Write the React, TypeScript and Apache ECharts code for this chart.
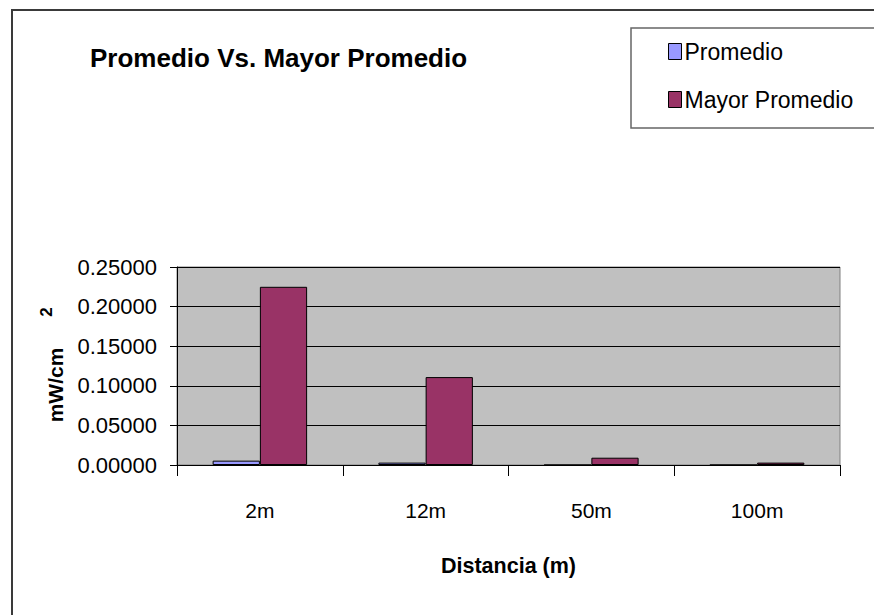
import React, { useEffect, useRef } from "react";
import * as echarts from "echarts";

const categories = ["2m", "12m", "50m", "100m"];
const promedio = [0.0055, 0.003, 0, 0];
const mayorPromedio = [0.225, 0.111, 0.0092, 0.003];
const yTicks = { min: 0, max: 0.25, interval: 0.05 };

const FONT = "'Liberation Sans', Arial, sans-serif";

export default function App() {
  const ref = useRef<HTMLDivElement>(null);
  useEffect(() => {
    if (!ref.current) return;
    const chart = echarts.init(ref.current, null, { renderer: "svg" });
    chart.setOption({
      animation: false,
      backgroundColor: "#ffffff",
      textStyle: { fontFamily: FONT },
      title: {
        text: "Promedio Vs. Mayor Promedio",
        left: 90,
        top: 45,
        padding: 0,
        textStyle: { fontFamily: FONT, fontSize: 26, fontWeight: "bold", color: "#000" },
      },
      legend: {
        orient: "vertical",
        left: 668,
        top: 40,
        padding: 0,
        itemGap: 25,
        itemWidth: 13,
        itemHeight: 16,
        icon: "rect",
        itemStyle: { borderColor: "#000", borderWidth: 1 },
        textStyle: { fontFamily: FONT, fontSize: 23, color: "#000", padding: [0, 0, 0, -2] },
        data: ["Promedio", "Mayor Promedio"],
      },
      grid: {
        left: 177,
        right: 34,
        top: 267,
        bottom: 150,
        show: true,
        backgroundColor: "#C0C0C0",
        borderColor: "#808080",
        borderWidth: 1,
      },
      xAxis: {
        type: "category",
        data: categories,
        name: "Distancia (m)",
        nameLocation: "middle",
        nameGap: 90,
        nameTextStyle: { fontFamily: FONT, fontSize: 21.5, fontWeight: "bold", color: "#000" },
        axisLine: { lineStyle: { color: "#000", width: 1 } },
        axisTick: { show: true, length: 11, lineStyle: { color: "#000" } },
        axisLabel: { margin: 35, fontFamily: FONT, fontSize: 21, color: "#000" },
      },
      yAxis: {
        type: "value",
        min: yTicks.min,
        max: yTicks.max,
        interval: yTicks.interval,
        name: "mW/cm",
        nameLocation: "middle",
        nameRotate: 90,
        nameGap: 111,
        nameTextStyle: {
          fontFamily: FONT,
          fontSize: 21,
          fontWeight: "bold",
          color: "#000",
          padding: [0, 38, 0, 0],
        },
        axisLine: { show: true, lineStyle: { color: "#000", width: 1 } },
        axisTick: { show: true, length: 7, lineStyle: { color: "#000" } },
        axisLabel: {
          margin: 20,
          fontFamily: FONT,
          fontSize: 22,
          color: "#000",
          formatter: (v: number) => v.toFixed(5),
        },
        splitLine: { show: true, lineStyle: { color: "#000", width: 1 } },
      },
      series: [
        {
          name: "Promedio",
          type: "bar",
          data: promedio,
          barGap: "0%",
          barCategoryGap: "43%",
          itemStyle: { color: "#9999FF", borderColor: "#000", borderWidth: 1 },
        },
        {
          name: "Mayor Promedio",
          type: "bar",
          data: mayorPromedio,
          barGap: "0%",
          barCategoryGap: "43%",
          itemStyle: { color: "#993366", borderColor: "#000", borderWidth: 1 },
        },
      ],
      graphic: [
        {
          type: "rect",
          shape: { x: 12, y: 10, width: 900, height: 700 },
          style: { fill: "none", stroke: "#3a3a3a", lineWidth: 2 },
          silent: true,
        },
        {
          type: "rect",
          shape: { x: 631, y: 28, width: 300, height: 100 },
          style: { fill: "none", stroke: "#666", lineWidth: 1.5 },
          silent: true,
        },
        {
          type: "text",
          x: 46,
          y: 312,
          rotation: Math.PI / 2,
          style: {
            text: "2",
            fontFamily: FONT,
            fontSize: 17,
            fontWeight: "bold",
            fill: "#000",
            align: "center",
            verticalAlign: "middle",
          },
        },
      ],
    });
    return () => chart.dispose();
  }, []);
  return (
    <div
      ref={ref}
      style={{ position: "fixed", left: 0, top: 0, width: 874, height: 615 }}
    />
  );
}
